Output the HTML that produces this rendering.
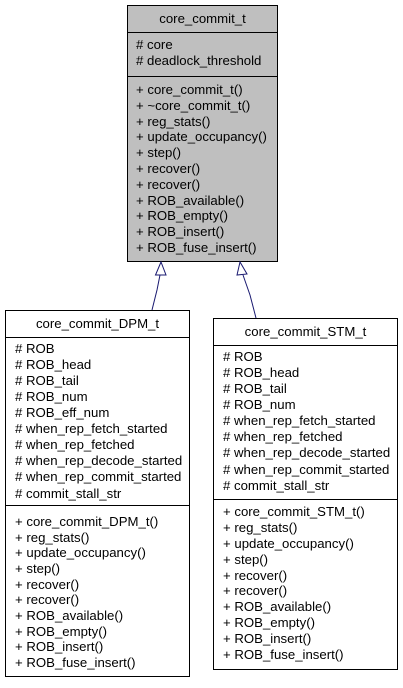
<!DOCTYPE html>
<html><head><meta charset="utf-8"><style>
html,body{margin:0;padding:0;background:#fff;}
svg text{font-family:"Liberation Sans",Helvetica,sans-serif;font-size:13.2px;fill:#000;}
</style></head><body>
<svg width="403" height="683" viewBox="0 0 403 683" xmlns="http://www.w3.org/2000/svg">
<rect x="127.5" y="5.5" width="150" height="256" fill="#bfbfbf" stroke="#000"/>
<line x1="127.5" y1="32.5" x2="277.5" y2="32.5" stroke="#000"/>
<line x1="127.5" y1="76.5" x2="277.5" y2="76.5" stroke="#000"/>
<text x="202.5" y="23" text-anchor="middle">core_commit_t</text>
<g>
<text x="136" y="49"># core</text>
<text x="136" y="65"># deadlock_threshold</text>
<text x="136" y="94">+ core_commit_t()</text>
<text x="136" y="110">+ ~core_commit_t()</text>
<text x="136" y="126">+ reg_stats()</text>
<text x="136" y="141">+ update_occupancy()</text>
<text x="136" y="157">+ step()</text>
<text x="136" y="173">+ recover()</text>
<text x="136" y="189">+ recover()</text>
<text x="136" y="205">+ ROB_available()</text>
<text x="136" y="220">+ ROB_empty()</text>
<text x="136" y="236">+ ROB_insert()</text>
<text x="136" y="252">+ ROB_fuse_insert()</text>
</g>

<path d="M152,310 L157,290 L160,275" fill="none" stroke="#191970"/>
<polygon points="161,262 155.5,275 166,275" fill="#fff" stroke="#191970"/>
<path d="M256,318 L250,295 L243,275" fill="none" stroke="#191970"/>
<polygon points="240,262 237,275 247,274" fill="#fff" stroke="#191970"/>

<rect x="5.5" y="310.5" width="184" height="366" fill="#fff" stroke="#000"/>
<line x1="5.5" y1="337.5" x2="189.5" y2="337.5" stroke="#000"/>
<line x1="5.5" y1="505.5" x2="189.5" y2="505.5" stroke="#000"/>
<text x="97.5" y="328" text-anchor="middle">core_commit_DPM_t</text>
<text x="15" y="353"># ROB</text>
<text x="15" y="369"># ROB_head</text>
<text x="15" y="385"># ROB_tail</text>
<text x="15" y="401"># ROB_num</text>
<text x="15" y="417"># ROB_eff_num</text>
<text x="15" y="433"># when_rep_fetch_started</text>
<text x="15" y="449"># when_rep_fetched</text>
<text x="15" y="465"># when_rep_decode_started</text>
<text x="15" y="481"># when_rep_commit_started</text>
<text x="15" y="498"># commit_stall_str</text>
<text x="15" y="526">+ core_commit_DPM_t()</text>
<text x="15" y="542">+ reg_stats()</text>
<text x="15" y="557">+ update_occupancy()</text>
<text x="15" y="573">+ step()</text>
<text x="15" y="589">+ recover()</text>
<text x="15" y="604">+ recover()</text>
<text x="15" y="620">+ ROB_available()</text>
<text x="15" y="636">+ ROB_empty()</text>
<text x="15" y="651">+ ROB_insert()</text>
<text x="15" y="667">+ ROB_fuse_insert()</text>

<rect x="213.5" y="318.5" width="184" height="351" fill="#fff" stroke="#000"/>
<line x1="213.5" y1="345.5" x2="397.5" y2="345.5" stroke="#000"/>
<line x1="213.5" y1="499.5" x2="397.5" y2="499.5" stroke="#000"/>
<text x="305.5" y="336" text-anchor="middle">core_commit_STM_t</text>
<text x="223" y="361"># ROB</text>
<text x="223" y="377"># ROB_head</text>
<text x="223" y="393"># ROB_tail</text>
<text x="223" y="409"># ROB_num</text>
<text x="223" y="425"># when_rep_fetch_started</text>
<text x="223" y="441"># when_rep_fetched</text>
<text x="223" y="457"># when_rep_decode_started</text>
<text x="223" y="474"># when_rep_commit_started</text>
<text x="223" y="490"># commit_stall_str</text>
<text x="223" y="516">+ core_commit_STM_t()</text>
<text x="223" y="532">+ reg_stats()</text>
<text x="223" y="548">+ update_occupancy()</text>
<text x="223" y="564">+ step()</text>
<text x="223" y="580">+ recover()</text>
<text x="223" y="595">+ recover()</text>
<text x="223" y="611">+ ROB_available()</text>
<text x="223" y="627">+ ROB_empty()</text>
<text x="223" y="643">+ ROB_insert()</text>
<text x="223" y="659">+ ROB_fuse_insert()</text>
</svg>
</body></html>
